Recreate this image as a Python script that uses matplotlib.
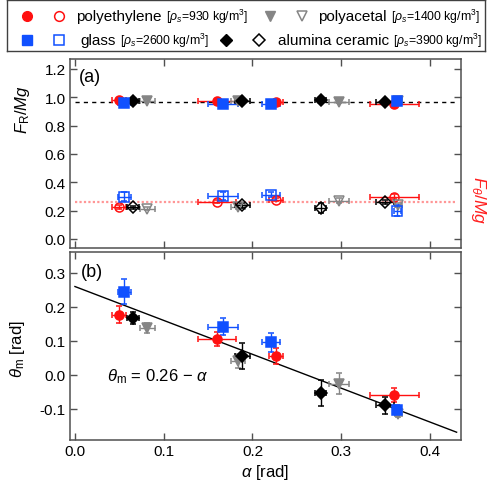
import matplotlib
matplotlib.use('Agg')
import matplotlib.pyplot as plt
from matplotlib.offsetbox import TextArea, HPacker, AnchoredOffsetbox
import numpy as np

plt.rcParams['font.family'] = ['Liberation Sans', 'DejaVu Sans']
plt.rcParams['mathtext.fontset'] = 'custom'
plt.rcParams['mathtext.rm'] = 'Liberation Sans'
plt.rcParams['mathtext.it'] = 'Liberation Sans:italic'
plt.rcParams['mathtext.bf'] = 'Liberation Sans:bold'
plt.rcParams['axes.unicode_minus'] = False

# ---------------- data ----------------
# polyethylene (red)
pe_alpha = [0.050, 0.160, 0.2266, 0.360]
pe_alpha_err = [0.008, 0.021, 0.008, 0.028]
pe_FR = [0.978, 0.970, 0.966, 0.955]
pe_FR_err = [0.008, 0.008, 0.008, 0.008]
pe_Ft = [0.224, 0.264, 0.276, 0.299]
pe_Ft_err = [0.015, 0.010, 0.010, 0.015]
pe_theta = [0.177, 0.105, 0.056, -0.060]
pe_theta_err = [0.026, 0.021, 0.024, 0.021]

# glass (blue)
gl_alpha = [0.0556, 0.167, 0.221, 0.363]
gl_alpha_err = [0.0075, 0.017, 0.010, 0.004]
gl_FR = [0.956, 0.954, 0.954, 0.973]
gl_FR_err = [0.008, 0.008, 0.008, 0.008]
gl_Ft = [0.299, 0.302, 0.313, 0.200]
gl_Ft_err = [0.030, 0.030, 0.020, 0.040]
gl_theta = [0.245, 0.142, 0.095, -0.105]
gl_theta_err = [0.036, 0.025, 0.027, 0.015]

# polyacetal (gray)
pa_alpha = [0.0815, 0.184, 0.297, 0.3645]
pa_alpha_err = [0.0085, 0.008, 0.0113, 0.004]
pa_FR = [0.972, 0.970, 0.966, 0.972]
pa_FR_err = [0.008, 0.008, 0.008, 0.008]
pa_Ft = [0.212, 0.224, 0.271, 0.240]
pa_Ft_err = [0.010, 0.015, 0.020, 0.015]
pa_theta = [0.137, 0.040, -0.027, -0.115]
pa_theta_err = [0.015, 0.020, 0.031, 0.010]

# alumina ceramic (black)
al_alpha = [0.0657, 0.1887, 0.277, 0.3495]
al_alpha_err = [0.0066, 0.0085, 0.006, 0.0098]
al_FR = [0.973, 0.975, 0.978, 0.966]
al_FR_err = [0.008, 0.008, 0.008, 0.008]
al_Ft = [0.224, 0.236, 0.217, 0.259]
al_Ft_err = [0.010, 0.015, 0.035, 0.015]
al_theta = [0.167, 0.055, -0.055, -0.091]
al_theta_err = [0.018, 0.037, 0.039, 0.025]

FR_mean = 0.966
Ft_mean = 0.26
fit_c = 0.26
fit_alpha = [0.0, 0.43]

top_yticks = [0.0, 0.2, 0.4, 0.6, 0.8, 1.0, 1.2]
bot_yticks = [-0.1, 0.0, 0.1, 0.2, 0.3]
xticks = [0.0, 0.1, 0.2, 0.3, 0.4]

RED = '#ff1010'
BLUE = '#1050ff'
GRAY = '#858585'
BLACK = '#000000'
SPINE = '#505050'

materials = [
    dict(a=pe_alpha, ae=pe_alpha_err, FR=pe_FR, FRe=pe_FR_err, Ft=pe_Ft, Fte=pe_Ft_err,
         th=pe_theta, the=pe_theta_err, c=RED, m='o', ms=6.5),
    dict(a=pa_alpha, ae=pa_alpha_err, FR=pa_FR, FRe=pa_FR_err, Ft=pa_Ft, Fte=pa_Ft_err,
         th=pa_theta, the=pa_theta_err, c=GRAY, m='v', ms=6.5),
    dict(a=al_alpha, ae=al_alpha_err, FR=al_FR, FRe=al_FR_err, Ft=al_Ft, Fte=al_Ft_err,
         th=al_theta, the=al_theta_err, c=BLACK, m='D', ms=6),
    dict(a=gl_alpha, ae=gl_alpha_err, FR=gl_FR, FRe=gl_FR_err, Ft=gl_Ft, Fte=gl_Ft_err,
         th=gl_theta, the=gl_theta_err, c=BLUE, m='s', ms=6.5),
]

fig = plt.figure(figsize=(4.87, 4.85), dpi=100)
ax1 = fig.add_axes([0.1437, 0.4866, 0.803, 0.3897])
ax2 = fig.add_axes([0.1437, 0.0907, 0.803, 0.3877])


def eb(ax, x, y, xe, ye, c, m, ms, filled):
    ax.errorbar(x, y, xerr=xe, yerr=ye, fmt=m, ms=ms,
                mfc=c if filled else 'none', mec=c, mew=1.1,
                ecolor=c, elinewidth=1.0, capsize=2, capthick=1.0, ls='none')


# reference lines
ax1.plot(fit_alpha, [FR_mean, FR_mean], ls=(0, (3, 3)), color='k', lw=1.0, zorder=1)
ax1.plot(fit_alpha, [Ft_mean, Ft_mean], ls=(0, (1, 1)), color='#ff5050', lw=1.6,
         alpha=0.6, zorder=1)
ax2.plot(fit_alpha, [fit_c - a for a in fit_alpha], color='k', lw=1.0, zorder=1)

for d in materials:
    eb(ax1, d['a'], d['FR'], d['ae'], d['FRe'], d['c'], d['m'], d['ms'], True)
    eb(ax1, d['a'], d['Ft'], d['ae'], d['Fte'], d['c'], d['m'], d['ms'], False)
    eb(ax2, d['a'], d['th'], d['ae'], d['the'], d['c'], d['m'], d['ms'], True)

for ax in (ax1, ax2):
    ax.set_xlim(-0.0056, 0.435)
    ax.set_xticks(xticks)
    ax.tick_params(direction='in', length=5, width=1, color=SPINE, top=True,
                   right=True, labelsize=11, pad=3)
    for s in ax.spines.values():
        s.set_color(SPINE)
        s.set_linewidth(1.1)

ax1.set_ylim(-0.064, 1.27)
ax1.set_yticks(top_yticks)
ax1.set_yticklabels(['%.1f' % v for v in top_yticks])
ax1.tick_params(labelbottom=False)
ax1.set_ylabel(r'$F_\mathrm{R}/Mg$', fontsize=12)
ax1.yaxis.set_label_coords(-0.098, 0.735)
ax1.text(1.045, 0.26, r'$F_\theta/Mg$', transform=ax1.transAxes, rotation=270,
         color='#ff2020', fontsize=12.5, ha='center', va='center')
ax1.text(0.022, 0.905, '(a)', transform=ax1.transAxes, fontsize=13, ha='left', va='center')

ax2.set_ylim(-0.193, 0.362)
ax2.set_yticks(bot_yticks)
ax2.set_yticklabels(['%.1f' % v for v in bot_yticks])
ax2.set_xticklabels(['%.1f' % v for v in xticks])
ax2.set_ylabel(r'$\theta_\mathrm{m}$ [rad]', fontsize=12)
ax2.yaxis.set_label_coords(-0.11, 0.49)
ax2.set_xlabel(r'$\alpha$ [rad]', fontsize=12, labelpad=3)
ax2.text(0.028, 0.895, '(b)', transform=ax2.transAxes, fontsize=13, ha='left', va='center')
ax2.text(0.095, 0.34, r'$\theta_\mathrm{m}$ = 0.26 $-$ $\alpha$', transform=ax2.transAxes,
         fontsize=12, ha='left', va='center')

# ---------------- legend box ----------------
lax = fig.add_axes([7 / 487, 1 - 52 / 485, 478 / 487, 51 / 485])
lax.set_xlim(7, 485)
lax.set_ylim(52, 1)
lax.set_xticks([])
lax.set_yticks([])
for s in lax.spines.values():
    s.set_color('#404040')
    s.set_linewidth(1.0)

leg_rows = [
    (17, 27, 59, 76, RED, 'o', 7, 'polyethylene', r'[$\rho_s$=930 kg/m$^3$]'),
    (17, 270, 302, 318, GRAY, 'v', 7, 'polyacetal', r'[$\rho_s$=1400 kg/m$^3$]'),
    (41, 27, 59, 80, BLUE, 's', 6.5, 'glass', r'[$\rho_s$=2600 kg/m$^3$]'),
    (41, 226, 259, 278, BLACK, 'D', 6.5, 'alumina ceramic', r'[$\rho_s$=3900 kg/m$^3$]'),
]
for (yy, xf, xo, xt, c, m, ms, name, dens) in leg_rows:
    lax.plot([xf], [yy], marker=m, ms=ms, mfc=c, mec=c, ls='none', clip_on=False)
    lax.plot([xo], [yy], marker=m, ms=ms, mfc='none', mec=c, mew=1.1, ls='none',
             clip_on=False)
    box = HPacker(children=[TextArea(name, textprops=dict(fontsize=11)),
                            TextArea(dens, textprops=dict(fontsize=8.8))],
                  align='baseline', pad=0, sep=3)
    ab = AnchoredOffsetbox(loc='center left', child=box, pad=0, borderpad=0,
                           frameon=False, bbox_to_anchor=(xt, yy),
                           bbox_transform=lax.transData)
    lax.add_artist(ab)

fig.savefig('out.png', dpi=100)
